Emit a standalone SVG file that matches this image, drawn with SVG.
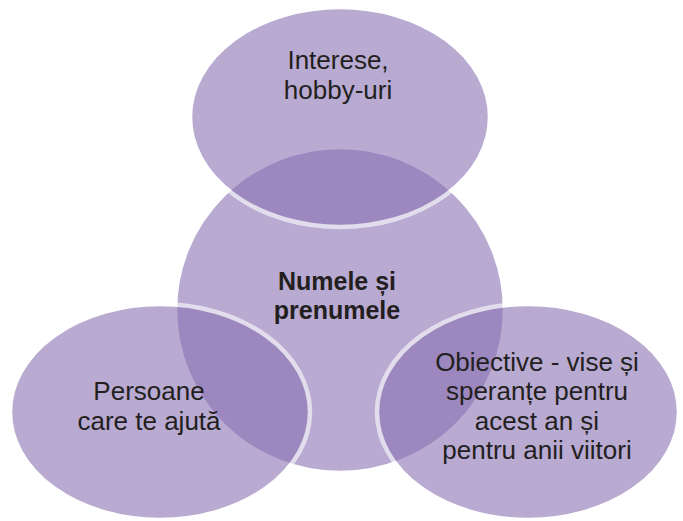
<svg xmlns="http://www.w3.org/2000/svg" width="683" height="521" viewBox="0 0 683 521">
  <style>
    .shape { fill: #8a72b3; stroke: #ffffff; stroke-width: 4.5; opacity: 0.6; }
    .lbl { font-family: "Liberation Sans", Arial, sans-serif; font-size: 26px; fill: #231f20; text-anchor: middle; }
    .bold { font-weight: bold; font-size: 25px; }
  </style>
  <rect width="683" height="521" fill="#ffffff"/>
  <g id="connectors"></g>
  <g id="node-center">
    <ellipse class="shape" cx="340" cy="310" rx="165" ry="163"/>
    <text class="lbl bold" x="337" y="290">Numele și</text>
    <text class="lbl bold" x="337" y="319">prenumele</text>
  </g>
  <g id="node-top">
    <ellipse class="shape" cx="340" cy="117" rx="150" ry="110"/>
    <text class="lbl" x="338" y="69">Interese,</text>
    <text class="lbl" x="338" y="99">hobby-uri</text>
  </g>
  <g id="node-left">
    <ellipse class="shape" cx="160" cy="412" rx="150" ry="108"/>
    <text class="lbl" x="149" y="400">Persoane</text>
    <text class="lbl" x="149" y="430">care te ajută</text>
  </g>
  <g id="node-right">
    <ellipse class="shape" cx="528" cy="412" rx="151" ry="108"/>
    <text class="lbl" x="537" y="371">Obiective - vise și</text>
    <text class="lbl" x="537" y="400">speranțe pentru</text>
    <text class="lbl" x="537" y="430">acest an și</text>
    <text class="lbl" x="537" y="459">pentru anii viitori</text>
  </g>
</svg>
